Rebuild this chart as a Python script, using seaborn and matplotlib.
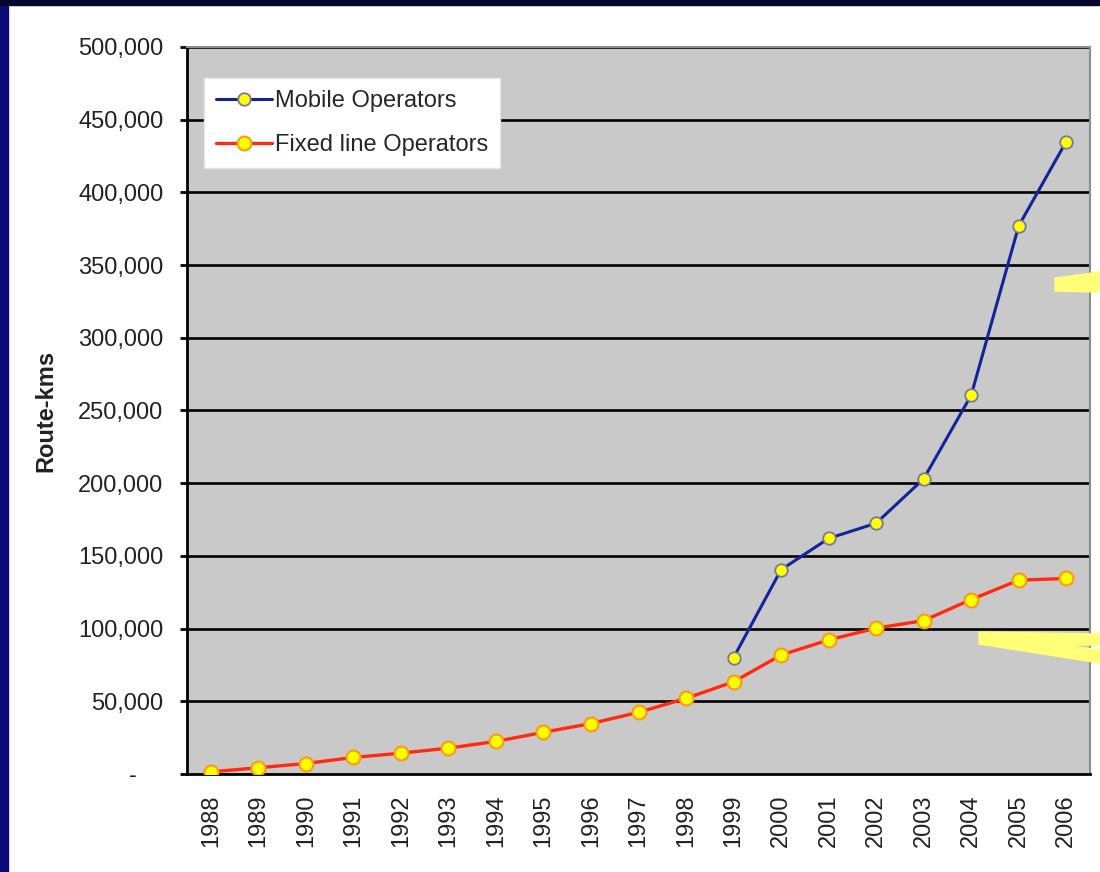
import numpy as np
import pandas as pd
import matplotlib
matplotlib.use('Agg')
import matplotlib.pyplot as plt
from matplotlib.patches import Polygon, Rectangle
import seaborn as sns

years = list(range(1988, 2007))
mobile_kms = [np.nan] * 11 + [80000, 140500, 162000, 172500, 203000, 260500, 377000, 435000]
fixed_kms = [1500, 4300, 7200, 11400, 14300, 17800, 22400, 28700, 34700, 42400, 52000,
             63400, 81800, 92200, 100300, 105500, 120000, 133300, 134500]
y_ticks = list(range(0, 500001, 50000))

df = pd.DataFrame({'pos': range(len(years)), 'year': years,
                   'Mobile Operators': mobile_kms, 'Fixed line Operators': fixed_kms})

sns.set_style('white')
plt.rcParams['font.family'] = ['Liberation Sans', 'DejaVu Sans']

W, H = 1100, 872
fig = plt.figure(figsize=(W / 100, H / 100), dpi=100, facecolor='white')
ax = fig.add_axes([187 / W, 1 - 774 / H, (1090 - 187) / W, (774 - 47) / H])
ax.set_facecolor('#c9c9c9')

# slide background strips
fig.patches.append(Rectangle((0, 0), 8 / W, 1, transform=fig.transFigure, color='#0b0b78', zorder=0))
fig.patches.append(Rectangle((0, 1 - 5 / H), 1, 5 / H, transform=fig.transFigure, color='#06062a', zorder=0))

for v in y_ticks[1:]:
    ax.axhline(v, color='black', lw=1.9, zorder=1)

sns.lineplot(data=df.dropna(subset=['Mobile Operators']), x='pos', y='Mobile Operators', ax=ax,
             color='#13249a', lw=2.2, marker='o', markersize=9, markerfacecolor='#ffff00',
             markeredgecolor='#7a7a96', markeredgewidth=1.3, label='Mobile Operators', zorder=3)
sns.lineplot(data=df, x='pos', y='Fixed line Operators', ax=ax,
             color='#ff2a10', lw=2.4, marker='o', markersize=10, markerfacecolor='#ffff00',
             markeredgecolor='#ff9a10', markeredgewidth=1.5, label='Fixed line Operators', zorder=3)

ax.set_xlim(-0.5, len(years) - 0.5)
ax.set_ylim(0, 500000)
ax.set_xticks(range(len(years)))
ax.set_xticklabels([str(y) for y in years], rotation=90, fontsize=17, color='#222222')
ax.set_xticks(np.arange(-0.5, len(years), 1), minor=True)
ax.tick_params(axis='x', which='major', length=0, pad=15)
ax.tick_params(axis='x', which='minor', length=6, width=2, color='black', direction='out')
ax.set_yticks(y_ticks)
ax.set_yticklabels(['-    ' if v == 0 else f'{v:,}' for v in y_ticks], fontsize=17, color='#222222')
ax.tick_params(axis='y', length=5, width=2, color='black', direction='out', pad=12, left=True)
ax.set_xlabel('')
ax.set_ylabel('Route-kms', fontsize=17, fontweight='bold', color='#222222')
ax.yaxis.set_label_coords(-0.1437, 0.5)

for side in ['left', 'bottom']:
    ax.spines[side].set_color('black')
    ax.spines[side].set_linewidth(2)
for side in ['top', 'right']:
    ax.spines[side].set_color('#8c8c8c')
    ax.spines[side].set_linewidth(1.5)

leg = ax.legend(loc='upper left', bbox_to_anchor=(0.0188, 0.957), borderaxespad=0, fontsize=17,
                frameon=True, fancybox=False, framealpha=1, edgecolor='#e6e6e6', facecolor='white',
                handlelength=2.4, handletextpad=0.12, borderpad=0.5, labelspacing=0.95)
leg.set_zorder(5)

# yellow callout shapes on the right edge
def px(pts):
    return [(x / W, 1 - y / H) for x, y in pts]

fig.patches.append(Polygon(px([(1055, 278), (1100, 272), (1100, 292), (1055, 291)]),
                           closed=True, transform=fig.transFigure, color='#ffff78', zorder=4))
fig.patches.append(Polygon(px([(979, 632), (1100, 634), (1100, 645), (1065, 645), (1100, 650),
                               (1100, 663), (979, 644)]),
                           closed=True, transform=fig.transFigure, color='#ffff78', zorder=4))

fig.savefig('out.png', dpi=100, facecolor=fig.get_facecolor())
